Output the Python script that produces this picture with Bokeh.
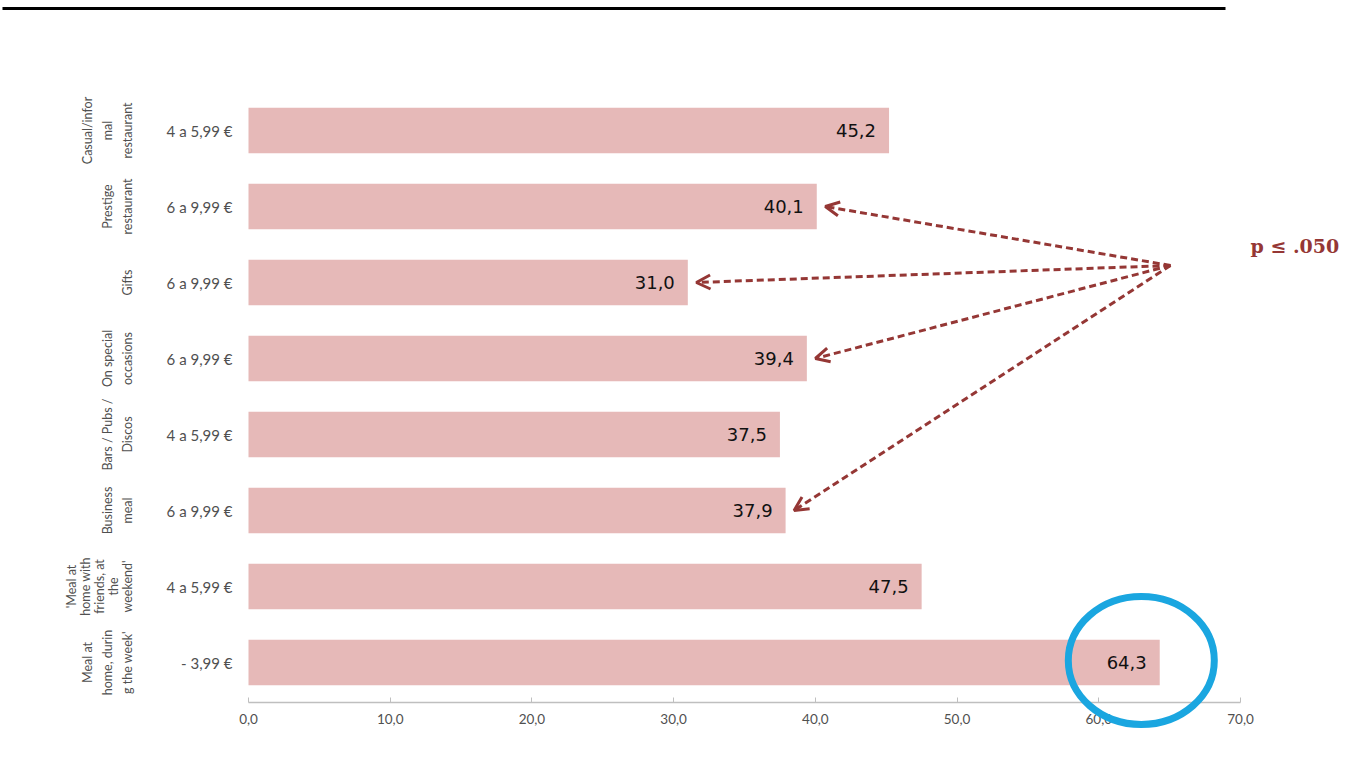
import math
from bokeh.plotting import figure
from bokeh.models import Range1d, FixedTicker, ColumnDataSource, Arrow, OpenHead, Label, LinearAxis, Grid
from bokeh.core.properties import value
from bokeh.embed import file_html
from bokeh.resources import INLINE

# ---------------- data ----------------
categories = [
    ["Casual/infor", "mal", "restaurant"],
    ["Prestige", "restaurant"],
    ["Gifts"],
    ["On special", "occasions"],
    ["Bars / Pubs /", "Discos"],
    ["Business", "meal"],
    ["'Meal at", "home with", "friends, at", "the", "weekend'"],
    ["Meal at", "home, durin", "g the week'"],
]
price_ranges = ["4 a 5,99 €", "6 a 9,99 €", "6 a 9,99 €", "6 a 9,99 €",
                "4 a 5,99 €", "6 a 9,99 €", "4 a 5,99 €", "- 3,99 €"]
values = [45.2, 40.1, 31.0, 39.4, 37.5, 37.9, 47.5, 64.3]
x_ticks = [0, 10, 20, 30, 40, 50, 60, 70]
significant = [1, 2, 3, 5]          # bars pointed at by the arrows
sig_label = "p ≤ .050"
highlight = 7                        # circled bar

# ---------------- styling / layout ----------------
W, H = 1355, 758
PX0, PX70 = 248, 1240
ppu = (PX70 - PX0) / 70.0
BAR_COLOR = "#e6b9b8"
DARK_RED = "#953735"
GRAY = "#505050"
AXIS_Y = 7 + 40 / 76

idx = list(range(len(values)))

p = figure(width=W, height=H, output_backend="svg", toolbar_location=None,
           x_range=Range1d(-PX0 / ppu, (W - PX0) / ppu),
           y_range=Range1d(7 + (H - 662) / 76, -130 / 76),
           x_axis_location=None, y_axis_location=None,
           min_border_left=0, min_border_right=0, min_border_top=0, min_border_bottom=0)
p.outline_line_color = None
p.background_fill_color = "white"
p.border_fill_color = "white"
for r in list(p.center):
    if isinstance(r, Grid):
        r.visible = False
        r.grid_line_color = None

# bars
src = ColumnDataSource(dict(y=idx, v=values, lab=[f"{v:.1f}".replace(".", ",") for v in values]))
p.hbar(y="y", left=0, right="v", height=0.6, source=src, fill_color=BAR_COLOR, line_color=None)
p.text(x="v", y="y", text="lab", source=src, x_offset=-13, text_align="right",
       text_baseline="middle", text_font=value("DejaVu Sans"), text_font_size="18px",
       text_color="#111111")

# price labels
p.text(x=[0] * len(idx), y=idx, text=price_ranges, x_offset=-16, text_align="right",
       text_baseline="middle", text_font=value("Lato"), text_font_size="15px",
       text_color=GRAY)

# rotated category labels
cx, cy, ct, co = [], [], [], []
for i, lines in enumerate(categories):
    n = len(lines)
    sp = 20 if n <= 3 else 14
    for j, line in enumerate(lines):
        cx.append(0)
        cy.append(i)
        ct.append(line)
        co.append(-121 - (n - 1 - j) * sp)
p.text(x=cx, y=cy, text=ct, x_offset=co, angle=math.pi / 2, text_align="center",
       text_baseline="middle", text_font=value("Lato"), text_font_size="12.5px",
       text_color=GRAY)

# x axis (fixed inside the frame so the highlight ellipse is not clipped)
ax = LinearAxis(fixed_location=AXIS_Y)
ax.ticker = FixedTicker(ticks=x_ticks)
ax.bounds = (0, 70)
ax.major_label_overrides = {t: f"{t:.1f}".replace(".", ",") for t in x_ticks}
ax.axis_line_color = "#bfbfbf"
ax.axis_line_width = 1.5
ax.major_tick_line_color = "#bfbfbf"
ax.major_tick_in = 5
ax.major_tick_out = 0
ax.minor_tick_line_color = None
ax.major_label_standoff = 11
ax.major_label_text_font = "Lato"
ax.major_label_text_font_size = "13.5px"
ax.major_label_text_color = GRAY
p.add_layout(ax, "below")

# top rule
p.segment(x0=[-246 / ppu], x1=[(1225 - PX0) / ppu], y0=[-122 / 76], y1=[-122 / 76],
          line_color="black", line_width=3)

# arrows
ox, oy = (1170 - PX0) / ppu, (265 - 130) / 76
for i in significant:
    p.add_layout(Arrow(x_start=ox, y_start=oy, x_end=values[i] + 0.6, y_end=i,
                       line_color=DARK_RED, line_width=3, line_dash="7 4",
                       end=OpenHead(size=14, line_color=DARK_RED, line_width=3)))

p.add_layout(Label(x=(1250 - PX0) / ppu, y=(245 - 130) / 76, text=sig_label,
                   text_font="DejaVu Serif", text_font_style="bold", text_font_size="19px",
                   text_color=DARK_RED, text_align="left", text_baseline="middle"))

# highlight ellipse
p.ellipse(x=[values[highlight] - 1.3], y=[highlight - 2 / 76], width=146 / ppu, height=128 / 76,
          fill_color=None, line_color="#1aa6e0", line_width=7, level="overlay")

open("out.html", "w").write(file_html(p, INLINE))
